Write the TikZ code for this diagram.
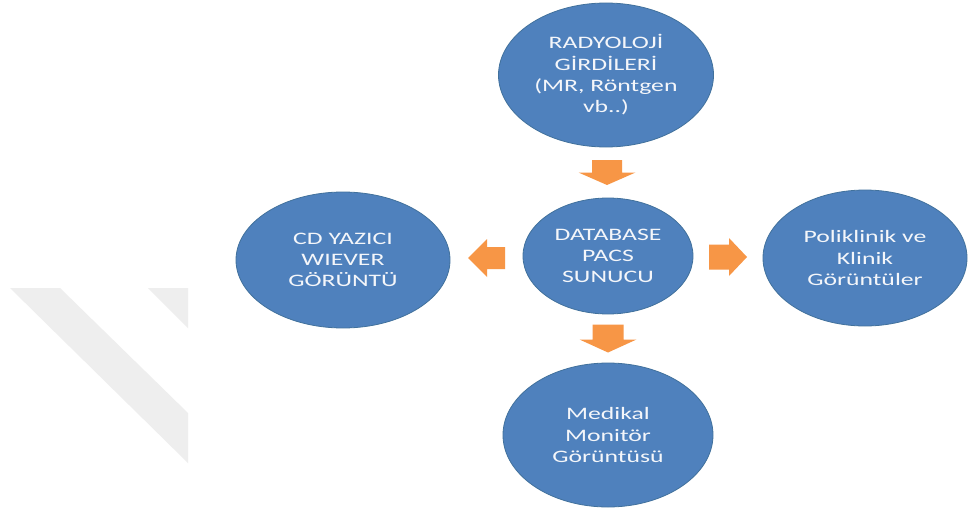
\documentclass[tikz,border=0pt]{standalone}
\usepackage{fontspec}
\newfontfamily\circlefont[FakeStretch=1.47]{Carlito}
\usetikzlibrary{calc, shapes.geometric}
\definecolor{officeblue}{HTML}{4F81BD}
\definecolor{officeblueline}{HTML}{41719C}
\definecolor{officeorange}{HTML}{F79646}
\definecolor{markgray}{HTML}{EEEEEE}
\definecolor{bubbletext}{HTML}{F4F6FA}
\tikzset{
    bubble/.style={ellipse, fill=officeblue, draw=officeblueline, line width=0.8pt,
        inner sep=0pt, text=bubbletext, align=center,
        font=\circlefont\fontsize{17.5}{21.3}\selectfont},
    blockarrow/.style={fill=officeorange}
}

\begin{document}
\begin{tikzpicture}[x=1pt, y=-1pt]
    \fill [white] (0,0) rectangle (969,511);
    \useasboundingbox (0,0) rectangle (969,511);
    % faint mark on the left
    \fill [markgray] (10,288) -- (60,288) -- (188,413) -- (188,463) -- cycle;
    \fill [markgray] (148,288) -- (188,288) -- (188,328) -- cycle;
    % bubbles
    \node [bubble, minimum width=215, minimum height=144] (radyoloji) at (606,75)
        {RADYOLOJİ\\GİRDİLERİ\\(MR, Röntgen\\vb..)};
    \node [bubble, minimum width=170, minimum height=116] (pacs) at (608,256)
        {DATABASE\\PACS\\SUNUCU};
    \node [bubble, minimum width=214, minimum height=136] (cd) at (343,260)
        {CD YAZICI\\WIEVER\\GÖRÜNTÜ};
    \node [bubble, minimum width=204, minimum height=136] (poliklinik) at (865,258)
        {Poliklinik ve\\Klinik\\Görüntüler};
    \node [bubble, minimum width=210, minimum height=144] (monitor) at (608,435)
        {Medikal\\Monitör\\Görüntüsü};
    % arrows
    \coordinate (a1) at ($(radyoloji.south)!0.5!(pacs.north)$);
    \coordinate (a2) at ($(pacs.west)!0.5!(cd.east)$);
    \coordinate (a3) at ($(pacs.east)!0.5!(poliklinik.west)$);
    \coordinate (a4) at ($(pacs.south)!0.5!(monitor.north)$);
    \fill [blockarrow, shift={(a1)}] (-15,-12.5) -- (15,-12.5) -- (15,0) -- (28.5,0)
        -- (0,12.5) -- (-28.5,0) -- (-15,0) -- cycle;
    \fill [blockarrow, shift={(a2)}] (18.5,-11) -- (18.5,11) -- (0.5,11) -- (0.5,19)
        -- (-18.5,0) -- (0.5,-19) -- (0.5,-11) -- cycle;
    \fill [blockarrow, shift={(a3)}] (-19,-12.5) -- (-19,12.5) -- (1,12.5) -- (1,19)
        -- (19,0) -- (1,-19) -- (1,-12.5) -- cycle;
    \fill [blockarrow, shift={(a4)}] (-15.5,-14) -- (15.5,-14) -- (15.5,1) -- (28.5,1)
        -- (0,14) -- (-28.5,1) -- (-15.5,1) -- cycle;
\end{tikzpicture}
\end{document}
